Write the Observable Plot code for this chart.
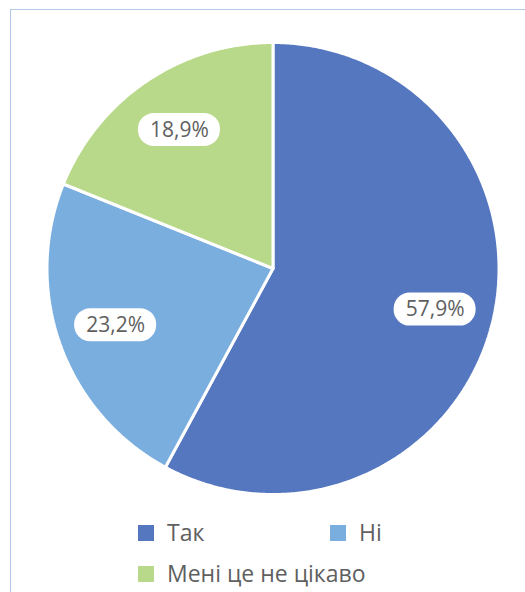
<!DOCTYPE html>
<html>
<head>
<meta charset="utf-8">
<script src="https://cdn.jsdelivr.net/npm/d3@7"></script>
<script src="https://cdn.jsdelivr.net/npm/@observablehq/plot@0.6"></script>
<style>
  html, body { margin: 0; padding: 0; background: #fff; overflow: hidden; width: 525px; height: 592px; }
  #frame { position: absolute; left: 10px; top: 9px; width: 600px; height: 700px; border: 1.5px solid #b4c7e7; box-sizing: border-box; }
  #chart { position: absolute; left: 0; top: 0; }
  .leg { position: absolute; font-family: "Open Sans", sans-serif; font-size: 23px; color: #5f5f5f; line-height: 1; }
  .sw { position: absolute; width: 16px; height: 16px; }
</style>
</head>
<body>
<div id="frame"></div>
<div id="chart"></div>
<div id="legend"></div>
<script>
const categories = ["Так", "Ні", "Мені це не цікаво"];
const values = [57.9, 23.2, 18.9];
const labels = ["57,9%", "23,2%", "18,9%"];
const colors = ["#5577bf", "#7aaedf", "#b9d98a"];

// Build slice outlines (unit circle, clockwise from 12 o'clock)
const total = d3.sum(values);
const slices = [];
const labelRows = [];
let acc = 0;
values.forEach((v, i) => {
  const a0 = acc / total * 2 * Math.PI;
  acc += v;
  const a1 = acc / total * 2 * Math.PI;
  slices.push({cat: categories[i], x: 0, y: 0});
  const n = Math.max(2, Math.ceil((a1 - a0) / (Math.PI / 360)));
  for (let k = 0; k <= n; k++) {
    const a = a0 + (a1 - a0) * k / n;
    slices.push({cat: categories[i], x: Math.sin(a), y: Math.cos(a)});
  }
  slices.push({cat: categories[i], x: 0, y: 0});
  const am = (a0 + a1) / 2;
  const rr = 0.74;
  const cx = rr * Math.sin(am), cy = rr * Math.cos(am);
  const hw = 41 / 226, hh = 16.5 / 226;
  labelRows.push({cat: categories[i], label: labels[i], x: cx, y: cy,
    x1: cx - hw, x2: cx + hw, y1: cy - hh, y2: cy + hh});
});

const cxPix = 272.5, cyPix = 268, R = 226;
const chart = Plot.plot({
  width: 525,
  height: 510,
  margin: 0,
  x: {domain: [-1, 1], range: [cxPix - R, cxPix + R], axis: null},
  y: {domain: [-1, 1], range: [cyPix + R, cyPix - R], axis: null},
  color: {domain: categories, range: colors},
  style: {background: "transparent", fontFamily: "Open Sans, sans-serif"},
  marks: [
    Plot.line(slices, {x: "x", y: "y", z: "cat", fill: "cat", stroke: "#ffffff", strokeWidth: 3, strokeLinejoin: "miter", curve: "linear"}),
    Plot.rect(labelRows, {x1: "x1", x2: "x2", y1: "y1", y2: "y2", fill: "#ffffff", rx: 16}),
    Plot.text(labelRows, {x: "x", y: "y", text: "label", fill: "#5f5f5f", fontSize: 21, fontFamily: "Open Sans, sans-serif"})
  ]
});
document.getElementById("chart").appendChild(chart);

// Legend
const legend = document.getElementById("legend");
const legPos = [[138, 525], [330, 525], [138, 566]];
categories.forEach((c, i) => {
  const sw = document.createElement("div");
  sw.className = "sw";
  sw.style.left = legPos[i][0] + "px";
  sw.style.top = legPos[i][1] + "px";
  sw.style.background = colors[i];
  legend.appendChild(sw);
  const t = document.createElement("div");
  t.className = "leg";
  t.style.left = (legPos[i][0] + 29) + "px";
  t.style.top = (legPos[i][1] - 4) + "px";
  t.textContent = c;
  legend.appendChild(t);
});
</script>
</body>
</html>
